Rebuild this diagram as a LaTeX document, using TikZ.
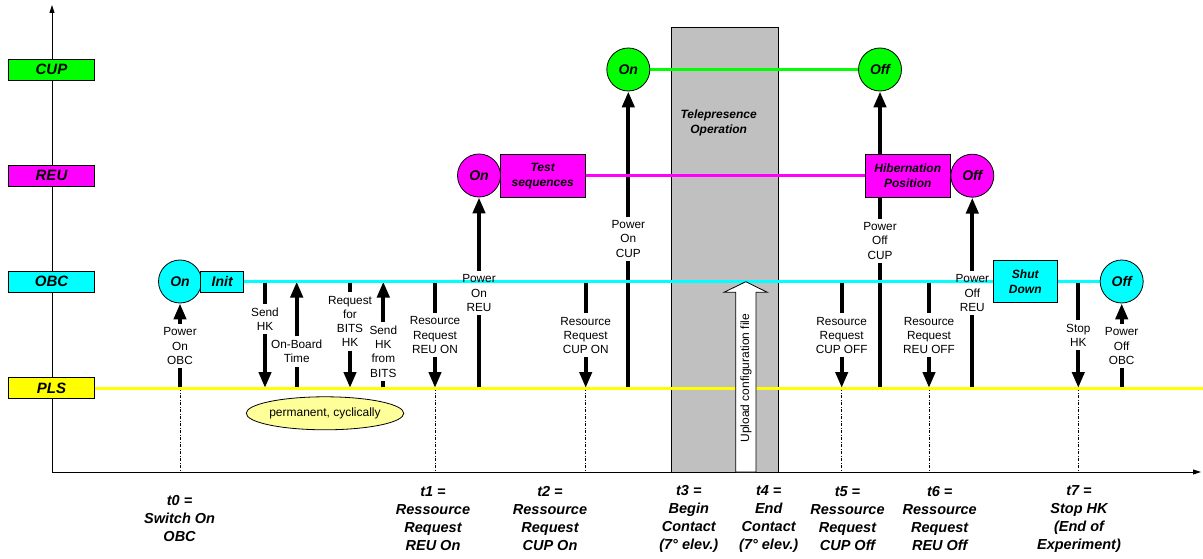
\documentclass[tikz,border=0pt]{standalone}
\usepackage{fontspec}
\setmainfont{Liberation Sans}
\usetikzlibrary{arrows.meta,shapes.geometric}
\definecolor{cupgreen}{HTML}{00FF00}
\definecolor{reumag}{HTML}{FF00FF}
\definecolor{obccyan}{HTML}{00FFFF}
\definecolor{plsyellow}{HTML}{FFFF00}
\definecolor{contactgray}{HTML}{C0C0C0}
\definecolor{ellyellow}{HTML}{FFFF99}
\pgfdeclarelayer{bg}
\pgfdeclarelayer{arrows}
\pgfdeclarelayer{lanes}
\pgfsetlayers{bg,arrows,lanes,main}
\tikzset{
 lanebox/.style={draw=black, line width=0.8pt, minimum width=85.5pt, minimum height=21pt, inner sep=0pt, font=\fontsize{15}{18}\selectfont\bfseries\itshape},
 state/.style={circle, draw=black, line width=0.8pt, minimum size=43pt, inner sep=0pt, font=\fontsize{14}{17}\selectfont\bfseries\itshape},
 phase/.style={draw=black, line width=0.8pt, inner sep=0pt, align=center, font=\fontsize{12}{15}\selectfont\bfseries\itshape},
 evlbl/.style={align=center, inner sep=3.5pt, font=\fontsize{11.8}{14.3}\selectfont},
 tlbl/.style={align=center, inner sep=0pt, font=\fontsize{14.5}{18}\selectfont\bfseries\itshape},
 lane/.style={line width=3pt},
 evline/.style={line width=4pt},
 evarr/.style={line width=4pt, -{Triangle[length=16pt,width=12pt]}},
 tick/.style={line width=0.8pt, dash pattern=on 3pt off 1.5pt on 1pt off 1.5pt},
 axis/.style={line width=1pt, -{Triangle[length=8pt,width=5pt]}},
}
\begin{document}
\begin{tikzpicture}[x=1pt,y=-1pt]
\useasboundingbox (0,0) rectangle (1203,559);
% reference coordinates
\coordinate (origin) at (52,472);
\coordinate (ytop) at (52,5);
\coordinate (xend) at (1201,472);
\coordinate (obcY) at (0,281.5);
\coordinate (plsY) at (0,388);
\coordinate (axisY) at (0,472);
\coordinate (plsEnd) at (1203,388);

\begin{pgfonlayer}{bg}
\node[draw=black, line width=0.8pt, fill=contactgray, minimum width=106.7pt, minimum height=445.3pt, inner sep=0pt, anchor=north west] (contact) at (671,27) {};
\draw[axis] (origin) -- (ytop);
\draw[axis] (origin) -- (xend);
\end{pgfonlayer}

\node[font=\fontsize{12}{15}\selectfont\bfseries\itshape, align=center] (telep) at (718.7,123) {Telepresence\\Operation};

% lane boxes
\node[lanebox, fill=cupgreen] (cup) at (51.5,69.5) {CUP};
\node[lanebox, fill=reumag] (reu) at (51.5,175.5) {REU};
\node[lanebox, fill=obccyan] (obc) at (51.5,281.5) {OBC};
\node[lanebox, fill=plsyellow] (pls) at (51.5,388) {PLS};

% states
\node[state, fill=obccyan] (obcOn) at (180,281.5) {On};
\node[phase, fill=obccyan, minimum width=43pt, minimum height=21pt, font=\fontsize{14}{17}\selectfont\bfseries\itshape] (init) at (222.2,281.5) {Init};
\node[state, fill=reumag] (reuOn) at (479,175.5) {On};
\node[phase, fill=reumag, minimum width=85.3pt, minimum height=42.7pt] (test) at (542.7,175.7) {Test\\sequences};
\node[state, fill=cupgreen] (cupOn) at (628.3,69.5) {On};
\node[state, fill=cupgreen] (cupOff) at (880,69.5) {Off};
\node[phase, fill=reumag, minimum width=85.7pt, minimum height=42.7pt] (hib) at (907.8,175.7) {Hibernation\\Position};
\node[state, fill=reumag] (reuOff) at (972.3,175.7) {Off};
\node[phase, fill=obccyan, minimum width=64pt, minimum height=42pt] (shut) at (1025.3,281.7) {Shut\\Down};
\node[state, fill=obccyan] (obcOff) at (1121.7,281.5) {Off};

% lanes
\begin{pgfonlayer}{lanes}
\draw[lane, cupgreen] (cupOn.east) -- (cupOff.west);
\draw[lane, reumag] (test.east) -- (hib.west);
\draw[lane, obccyan] (init.east) -- (obcOff.west);
\draw[lane, plsyellow] (pls.east) -- (plsEnd);
\end{pgfonlayer}

% events
\node[evlbl] (pOnOBC) at (180,346) {Power\\On\\OBC};
\node[evlbl] (sendHK) at (265,319.3) {Send\\HK};
\node[evlbl] (obt) at (296.7,351.5) {On-Board\\Time};
\node[evlbl] (reqBITS) at (350,321.4) {Request\\for\\BITS\\HK};
\node[evlbl] (sendBITS) at (383.3,351.5) {Send\\HK\\from\\BITS};
\node[evlbl] (rrREUon) at (435,335) {Resource\\Request\\REU ON};
\node[evlbl] (pOnREU) at (479,293) {Power\\On\\REU};
\node[evlbl] (rrCUPon) at (585.7,335.3) {Resource\\Request\\CUP ON};
\node[evlbl] (pOnCUP) at (628.3,238.7) {Power\\On\\CUP};
\node[evlbl] (pOffCUP) at (880,240.7) {Power\\Off\\CUP};
\node[evlbl] (rrCUPoff) at (841.7,335.3) {Resource\\Request\\CUP OFF};
\node[evlbl] (rrREUoff) at (929,335.3) {Resource\\Request\\REU OFF};
\node[evlbl] (pOffREU) at (972.3,293) {Power\\Off\\REU};
\node[evlbl] (stopHK) at (1078.3,335.3) {Stop\\HK};
\node[evlbl] (pOffOBC) at (1121.7,346) {Power\\Off\\OBC};

\begin{pgfonlayer}{arrows}
\draw[evline] (pOnOBC.south) -- (pOnOBC |- plsY);
\draw[evarr] (pOnOBC.north) -- (obcOn.south);

\draw[evline] (sendHK.north) -- (sendHK |- obcY);
\draw[evarr] (sendHK.south) -- (sendHK |- plsY);

\draw[evline] (obt.south) -- (obt |- plsY);
\draw[evarr] (obt.north) -- (obt |- obcY);

\draw[evline] (reqBITS.north) -- (reqBITS |- obcY);
\draw[evarr] (reqBITS.south) -- (reqBITS |- plsY);

\draw[evline] (sendBITS.south) -- (sendBITS |- plsY);
\draw[evarr] (sendBITS.north) -- (sendBITS |- obcY);

\draw[evline] (rrREUon.north) -- (rrREUon |- obcY);
\draw[evarr] (rrREUon.south) -- (rrREUon |- plsY);

\draw[evline] (pOnREU.south) -- (pOnREU |- plsY);
\draw[evarr] (pOnREU.north) -- (reuOn.south);

\draw[evline] (rrCUPon.north) -- (rrCUPon |- obcY);
\draw[evarr] (rrCUPon.south) -- (rrCUPon |- plsY);

\draw[evline] (pOnCUP.south) -- (pOnCUP |- plsY);
\draw[evarr] (pOnCUP.north) -- (cupOn.south);

\draw[evline] (pOffCUP.south) -- (pOffCUP |- plsY);
\draw[evline] (pOffCUP.north) -- (pOffCUP |- hib.south);
\draw[evarr] (pOffCUP |- hib.north) -- (cupOff.south);

\draw[evline] (rrCUPoff.north) -- (rrCUPoff |- obcY);
\draw[evarr] (rrCUPoff.south) -- (rrCUPoff |- plsY);

\draw[evline] (rrREUoff.north) -- (rrREUoff |- obcY);
\draw[evarr] (rrREUoff.south) -- (rrREUoff |- plsY);

\draw[evline] (pOffREU.south) -- (pOffREU |- plsY);
\draw[evarr] (pOffREU.north) -- (reuOff.south);

\draw[evline] (stopHK.north) -- (stopHK |- obcY);
\draw[evarr] (stopHK.south) -- (stopHK |- plsY);

\draw[evline] (pOffOBC.south) -- (pOffOBC |- plsY);
\draw[evarr] (pOffOBC.north) -- (obcOff.south);

% time ticks
\foreach \n in {pOnOBC,rrREUon,rrCUPon,rrCUPoff,rrREUoff,stopHK}
  \draw[tick] (\n |- plsY) -- (\n |- axisY);
\end{pgfonlayer}

% cyclic note
\node[ellipse, draw=black, line width=0.8pt, fill=ellyellow, minimum width=137pt, minimum height=33pt, inner sep=0pt, font=\fontsize{12}{14}\selectfont] (cyc) at (325,413.3) {permanent, cyclically};

% upload arrow
\draw[line width=0.8pt, fill=white] (735.7,472) -- (735.7,292.3) -- (724,292.3) -- (745.8,281.7) -- (767.3,292.3) -- (756,292.3) -- (756,472) -- cycle;
\node[rotate=90, inner sep=0pt, font=\fontsize{12}{14}\selectfont] (upload) at (746,378) {Upload configuration file};

% time labels
\node[tlbl] (t0) at (179.6,518.5) {t0 =\\Switch On\\OBC};
\node[tlbl] (t1) at (433,519) {t1 =\\Ressource\\Request\\REU On};
\node[tlbl] (t2) at (550,519) {t2 =\\Ressource\\Request\\CUP On};
\node[tlbl] (t3) at (688.8,519) {t3 =\\Begin\\Contact\\(7° elev.)};
\node[tlbl] (t4) at (768.7,519) {t4 =\\End\\Contact\\(7° elev.)};
\node[tlbl] (t5) at (847.5,519) {t5 =\\Ressource\\Request\\CUP Off};
\node[tlbl] (t6) at (939.7,519) {t6 =\\Ressource\\Request\\REU Off};
\node[tlbl] (t7) at (1079,519) {t7 =\\Stop HK\\(End of\\Experiment)};
\end{tikzpicture}
\end{document}
